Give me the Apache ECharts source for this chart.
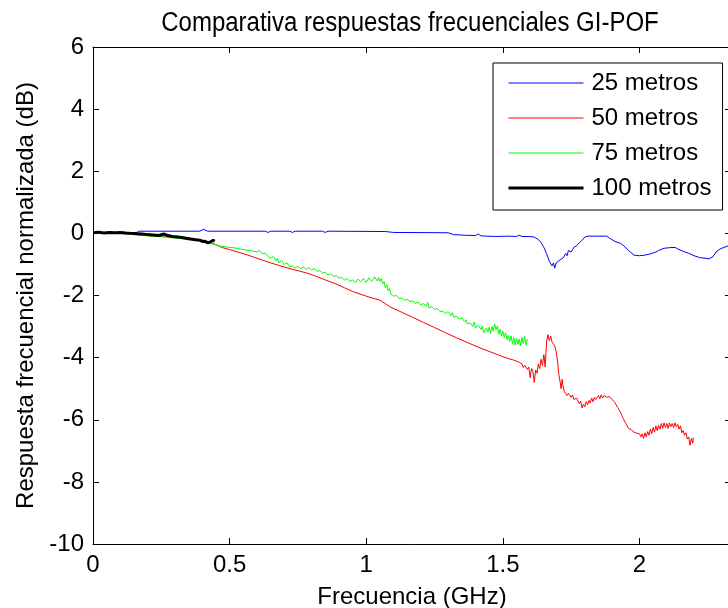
<!DOCTYPE html>
<html>
<head>
<meta charset="utf-8">
<script src="https://cdn.jsdelivr.net/npm/echarts@6/dist/echarts.min.js"></script>
<style>
  html, body { margin: 0; padding: 0; background: #fff; }
  #chart { width: 728px; height: 608px; }
</style>
</head>
<body>
<div id="chart"></div>
<script>
// nombres de las series (leyenda)
var nombres = ['25 metros', '50 metros', '75 metros', '100 metros'];
var colores = ['#0000ff', '#ff0000', '#00ff00', '#000000'];

// [frecuencia GHz, respuesta dB]
var datos25 = [[0,0.0],[0.08,0.02],[0.16,0.03],[0.17,0.07],[0.39,0.07],[0.405,0.13],[0.42,0.07],[0.63,0.07],[0.64,0.03],[0.65,0.07],
  [0.72,0.07],[0.73,0.03],[0.74,0.07],[0.84,0.07],[0.85,0.03],[0.86,0.07],[1.07,0.06],[1.10,0.03],[1.30,0.02],[1.32,-0.04],
  [1.36,-0.06],[1.40,-0.07],[1.41,-0.02],[1.42,-0.08],[1.47,-0.1],[1.52,-0.09],[1.55,-0.1],[1.56,-0.06],[1.57,-0.1],[1.60,-0.1],
  [1.615,-0.12],[1.63,-0.2],[1.64,-0.3],[1.65,-0.45],[1.66,-0.65],[1.67,-0.9],[1.68,-1.05],[1.685,-0.95],[1.69,-1.12],[1.695,-0.95],
  [1.70,-1.0],[1.71,-0.85],[1.72,-0.8],[1.73,-0.65],[1.735,-0.72],[1.74,-0.55],[1.75,-0.6],[1.76,-0.45],[1.77,-0.4],[1.78,-0.3],
  [1.79,-0.22],[1.80,-0.12],[1.81,-0.09],[1.84,-0.09],[1.88,-0.09],[1.89,-0.15],[1.91,-0.26],[1.93,-0.32],[1.94,-0.38],[1.96,-0.55],
  [1.98,-0.7],[2.00,-0.72],[2.02,-0.7],[2.04,-0.66],[2.06,-0.6],[2.07,-0.55],[2.09,-0.48],[2.11,-0.46],[2.13,-0.45],[2.14,-0.5],
  [2.16,-0.58],[2.18,-0.64],[2.20,-0.72],[2.22,-0.78],[2.24,-0.8],[2.255,-0.82],[2.27,-0.74],[2.28,-0.6],[2.295,-0.5],[2.31,-0.45],
  [2.325,-0.4],[2.335,-0.42]];

var datos50 = [[0,0.04],[0.05,0.02],[0.1,0.0],[0.15,-0.03],[0.19,-0.06],[0.25,-0.1],[0.3,-0.13],[0.35,-0.16],[0.39,-0.2],[0.42,-0.26],
  [0.45,-0.36],[0.47,-0.45],[0.5,-0.52],[0.53,-0.6],[0.56,-0.68],[0.59,-0.77],[0.62,-0.86],[0.65,-0.95],[0.68,-1.03],[0.71,-1.11],
  [0.74,-1.18],[0.78,-1.27],[0.81,-1.36],[0.83,-1.43],[0.86,-1.53],[0.89,-1.63],[0.92,-1.75],[0.95,-1.87],[0.98,-1.96],[1.01,-2.05],
  [1.05,-2.15],[1.09,-2.38],[1.13,-2.54],[1.17,-2.7],[1.21,-2.87],[1.25,-3.03],[1.29,-3.2],[1.33,-3.36],[1.38,-3.55],[1.42,-3.7],
  [1.45,-3.8],[1.48,-3.9],[1.50,-3.97],[1.52,-4.03],[1.54,-4.08],[1.56,-4.15],[1.57,-4.2],[1.575,-4.32],[1.58,-4.25],[1.59,-4.38],
  [1.595,-4.3],[1.60,-4.65],[1.605,-4.35],[1.61,-4.45],[1.615,-4.8],[1.62,-4.4],[1.625,-4.5],[1.63,-4.2],[1.635,-4.35],[1.64,-4.05],
  [1.645,-4.25],[1.65,-3.9],[1.655,-4.3],[1.66,-3.5],[1.665,-3.26],[1.67,-3.45],[1.675,-3.3],[1.68,-3.5],[1.685,-3.45],[1.69,-3.62],
  [1.695,-3.8],[1.70,-4.1],[1.705,-4.55],[1.71,-4.8],[1.713,-5.0],[1.717,-4.7],[1.72,-4.9],[1.725,-5.1],[1.73,-5.05],[1.735,-5.22],
  [1.74,-5.15],[1.75,-5.28],[1.755,-5.2],[1.76,-5.35],[1.77,-5.3],[1.78,-5.48],[1.785,-5.4],[1.79,-5.62],[1.795,-5.5],[1.80,-5.58],
  [1.805,-5.42],[1.81,-5.52],[1.815,-5.38],[1.82,-5.46],[1.825,-5.3],[1.83,-5.42],[1.835,-5.28],[1.84,-5.35],[1.85,-5.22],[1.855,-5.32],
  [1.86,-5.2],[1.865,-5.3],[1.87,-5.22],[1.88,-5.28],[1.89,-5.25],[1.90,-5.35],[1.91,-5.45],[1.92,-5.6],[1.93,-5.75],[1.94,-5.95],
  [1.95,-6.12],[1.96,-6.28],[1.97,-6.32],[1.98,-6.4],[1.99,-6.43],[2.00,-6.45],[2.005,-6.55],[2.01,-6.45],[2.015,-6.6],[2.02,-6.42],
  [2.025,-6.55],[2.03,-6.38],[2.035,-6.5],[2.04,-6.3],[2.045,-6.45],[2.05,-6.25],[2.055,-6.4],[2.06,-6.2],[2.065,-6.35],[2.07,-6.18],
  [2.075,-6.3],[2.08,-6.12],[2.085,-6.28],[2.09,-6.1],[2.095,-6.25],[2.10,-6.12],[2.105,-6.28],[2.11,-6.1],[2.115,-6.22],[2.12,-6.12],
  [2.125,-6.25],[2.13,-6.1],[2.135,-6.22],[2.14,-6.15],[2.145,-6.3],[2.15,-6.2],[2.155,-6.42],[2.16,-6.35],[2.165,-6.5],[2.17,-6.42],
  [2.175,-6.62],[2.18,-6.55],[2.185,-6.82],[2.19,-6.6],[2.195,-6.75],[2.197,-6.58]];

var datos75 = [[0,0.02],[0.05,0.01],[0.1,0.0],[0.15,-0.04],[0.2,-0.08],[0.25,-0.11],[0.3,-0.15],[0.35,-0.19],[0.4,-0.25],[0.43,-0.32],
  [0.46,-0.4],[0.49,-0.44],[0.52,-0.47],[0.55,-0.52],[0.58,-0.56],[0.60,-0.6],[0.61,-0.55],[0.62,-0.66],[0.63,-0.63],[0.64,-0.74],
  [0.645,-0.68],[0.65,-0.8],[0.66,-0.74],[0.67,-0.88],[0.675,-0.8],[0.68,-0.95],[0.69,-0.87],[0.70,-1.0],[0.71,-0.95],[0.72,-1.08],
  [0.73,-1.05],[0.74,-1.12],[0.75,-1.06],[0.76,-1.14],[0.77,-1.08],[0.78,-1.16],[0.79,-1.1],[0.80,-1.18],[0.81,-1.13],[0.82,-1.22],
  [0.83,-1.2],[0.84,-1.28],[0.85,-1.25],[0.86,-1.33],[0.87,-1.3],[0.88,-1.38],[0.89,-1.36],[0.90,-1.44],[0.91,-1.42],[0.92,-1.5],
  [0.93,-1.45],[0.94,-1.55],[0.95,-1.5],[0.96,-1.58],[0.97,-1.47],[0.98,-1.56],[0.99,-1.45],[1.00,-1.58],[1.01,-1.43],[1.02,-1.55],
  [1.03,-1.4],[1.04,-1.53],[1.045,-1.42],[1.05,-1.55],[1.055,-1.45],[1.06,-1.62],[1.065,-1.55],[1.07,-1.75],[1.075,-1.65],[1.08,-1.85],
  [1.085,-1.78],[1.09,-1.95],[1.095,-1.9],[1.10,-2.02],[1.11,-2.0],[1.12,-2.1],[1.13,-2.08],[1.14,-2.16],[1.15,-2.12],[1.16,-2.2],
  [1.17,-2.17],[1.18,-2.25],[1.19,-2.22],[1.20,-2.3],[1.21,-2.26],[1.22,-2.34],[1.225,-2.22],[1.23,-2.4],[1.24,-2.36],[1.25,-2.45],
  [1.26,-2.42],[1.27,-2.52],[1.28,-2.5],[1.29,-2.58],[1.30,-2.52],[1.31,-2.65],[1.315,-2.55],[1.32,-2.7],[1.33,-2.66],[1.34,-2.76],
  [1.35,-2.72],[1.36,-2.85],[1.365,-2.78],[1.37,-2.92],[1.38,-2.88],[1.39,-3.0],[1.395,-2.85],[1.40,-3.05],[1.41,-2.95],[1.42,-3.1],
  [1.425,-2.98],[1.43,-3.2],[1.44,-3.05],[1.445,-3.18],[1.45,-3.02],[1.455,-3.22],[1.46,-3.0],[1.465,-3.15],[1.47,-2.92],[1.475,-3.1],
  [1.48,-2.98],[1.485,-3.25],[1.49,-3.08],[1.495,-3.3],[1.50,-3.15],[1.505,-3.35],[1.51,-3.2],[1.515,-3.42],[1.52,-3.28],[1.525,-3.48],
  [1.53,-3.3],[1.535,-3.55],[1.54,-3.35],[1.545,-3.6],[1.55,-3.38],[1.555,-3.58],[1.56,-3.4],[1.565,-3.62],[1.57,-3.35],[1.575,-3.55],
  [1.58,-3.32],[1.585,-3.6],[1.59,-3.4]];

var datos100 = [[0,0.02],[0.02,0.04],[0.04,0.01],[0.06,0.03],[0.08,0.02],[0.1,0.03],[0.12,0.01],[0.14,0.0],[0.16,-0.01],[0.18,-0.02],
  [0.2,-0.04],[0.22,-0.05],[0.24,-0.07],[0.26,-0.02],[0.27,-0.06],[0.29,-0.1],[0.31,-0.12],[0.33,-0.14],[0.35,-0.17],[0.37,-0.2],
  [0.39,-0.22],[0.40,-0.26],[0.41,-0.25],[0.42,-0.31],[0.43,-0.27],[0.44,-0.22],[0.445,-0.25]];

var todos = [datos25, datos50, datos75, datos100];
var anchos = [1, 1, 1, 3];

var fuente = "'Liberation Sans', Arial, sans-serif";

var myChart = echarts.init(document.getElementById('chart'));

var series = [];
var leyenda = [];
for (var i = 0; i < todos.length; i++) {
    series.push({
        name: nombres[i],
        type: 'line',
        data: todos[i],
        symbol: 'none',
        animation: false,
        color: colores[i],
        lineStyle: { width: anchos[i], color: colores[i] }
    });
    // solo la linea en la leyenda, sin simbolo
    leyenda.push({
        name: nombres[i],
        lineStyle: { width: anchos[i], color: colores[i] },
        itemStyle: { color: 'rgba(0,0,0,0)', borderWidth: 0, opacity: 0 }
    });
}

// eje comun (estilo matlab, ticks hacia dentro)
function ejeX(pos, etiquetas) {
    return {
        type: 'value', position: pos, min: 0, max: 2.335, interval: 0.5,
        name: etiquetas ? 'Frecuencia (GHz)' : '',
        nameLocation: 'middle', nameGap: 41,
        nameTextStyle: { fontSize: 24, color: '#000', fontFamily: fuente },
        axisLine: { show: true, onZero: false, lineStyle: { color: '#000', width: 1 } },
        axisTick: { show: true, inside: true, length: 6, lineStyle: { color: '#000' } },
        axisLabel: { show: etiquetas, showMaxLabel: false, margin: 9, fontSize: 24, color: '#000', fontFamily: fuente },
        splitLine: { show: false }
    };
}
function ejeY(pos, etiquetas) {
    return {
        type: 'value', position: pos, min: -10, max: 6, interval: 2,
        name: etiquetas ? 'Respuesta frecuencial normalizada (dB)' : '',
        nameLocation: 'middle', nameGap: 54,
        nameTextStyle: { fontSize: 24, color: '#000', fontFamily: fuente },
        axisLine: { show: true, onZero: false, lineStyle: { color: '#000', width: 1 } },
        axisTick: { show: true, inside: true, length: 6, lineStyle: { color: '#000' } },
        axisLabel: { show: etiquetas, margin: 9, fontSize: 24, color: '#000', fontFamily: fuente },
        splitLine: { show: false }
    };
}

var option = {
    backgroundColor: '#fff',
    animation: false,
    grid: { left: 93, right: -3, top: 47, bottom: 64, containLabel: false, outerBoundsMode: 'none' },
    xAxis: [ejeX('bottom', true), ejeX('top', false)],
    yAxis: [ejeY('left', true), ejeY('right', false)],
    legend: {
        data: leyenda,
        orient: 'vertical',
        left: 493, top: 63,
        itemWidth: 75, itemHeight: 14,
        itemGap: 11,
        padding: [8, 11, 10, 14],
        borderColor: '#000', borderWidth: 1,
        backgroundColor: '#fff',
        itemStyle: { opacity: 0 },
        textStyle: { fontSize: 24, lineHeight: 24, color: '#000', fontFamily: fuente, padding: [0, 0, 0, 3] }
    },
    graphic: [{
        type: 'text',
        x: 410, y: 37,
        scaleY: 1.15,
        style: {
            text: 'Comparativa respuestas frecuenciales GI-POF',
            fontSize: 24, fontFamily: fuente, fill: '#000',
            align: 'center', verticalAlign: 'bottom'
        }
    }],
    series: series
};

myChart.setOption(option);
</script>
</body>
</html>
